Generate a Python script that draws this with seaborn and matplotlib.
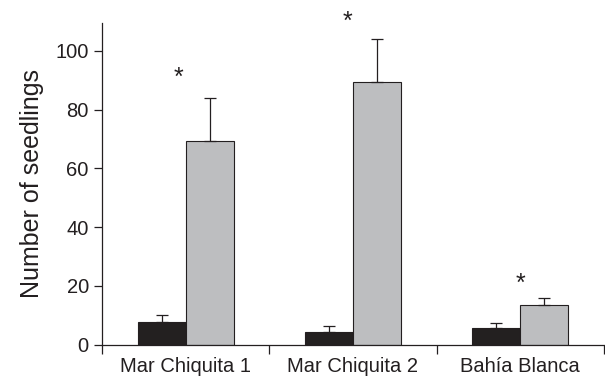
import numpy as np
import matplotlib
matplotlib.use("Agg")
import matplotlib.pyplot as plt
import pandas as pd
import seaborn as sns

# data
sites = ["Mar Chiquita 1", "Mar Chiquita 2", "Bahía Blanca"]
treatments = ["Control", "Treatment"]
means_control = [7.6, 4.4, 5.6]
means_treat = [69.4, 89.3, 13.5]
err_control = [2.3, 2.0, 1.8]
err_treat = [14.7, 14.9, 2.3]
star_y = [90.8, 109.9, 20.8]
star_dx = [-0.04, -0.03, 0.0]

df = pd.DataFrame({
    "site": sites * 2,
    "treatment": [treatments[0]] * 3 + [treatments[1]] * 3,
    "mean": means_control + means_treat,
    "err": err_control + err_treat,
})

sns.set_style("ticks")
plt.rcParams["font.family"] = ["Liberation Sans", "DejaVu Sans"]

fig = plt.figure(figsize=(6.05, 3.79), dpi=100)
ax = fig.add_axes([0.1686, 0.091, 0.8294, 0.849])

sns.barplot(data=df, x="site", y="mean", hue="treatment", order=sites,
            hue_order=treatments, palette=["#231f20", "#bcbec0"],
            width=0.573, gap=0, errorbar=None, edgecolor="#231f20",
            linewidth=0.8, legend=False, ax=ax)

# upward-only error bars at bar centres
for patch, (_, row) in zip(ax.patches, df.iterrows()):
    xc = patch.get_x() + patch.get_width() / 2
    ax.errorbar(xc, row["mean"], yerr=[[0], [row["err"]]], fmt="none",
                ecolor="#231f20", elinewidth=0.9, capsize=4, capthick=0.9)

for i, (sy, dx) in enumerate(zip(star_y, star_dx)):
    ax.text(i + dx, sy, "*", ha="center", va="center", fontsize=18,
            color="#231f20", clip_on=False)

ax.set_xlim(-0.5, 2.5)
ax.set_ylim(0, 109.6)
ax.set_yticks([0, 20, 40, 60, 80, 100])
ax.set_xticks(np.arange(-0.5, 3.0, 1.0), minor=True)
ax.tick_params(axis="x", which="major", length=0, pad=9, labelsize=14.5,
               colors="#231f20")
ax.tick_params(axis="x", which="minor", length=6.5, width=0.9, color="#231f20")
ax.tick_params(axis="y", length=6, width=0.9, labelsize=14.5, colors="#231f20")
ax.set_xlabel("")
ax.set_ylabel("Number of seedlings", fontsize=18, color="#231f20", labelpad=8)

sns.despine(ax=ax)
for s in ["left", "bottom"]:
    ax.spines[s].set_linewidth(0.9)
    ax.spines[s].set_color("#231f20")

fig.savefig("out.png", dpi=100)
